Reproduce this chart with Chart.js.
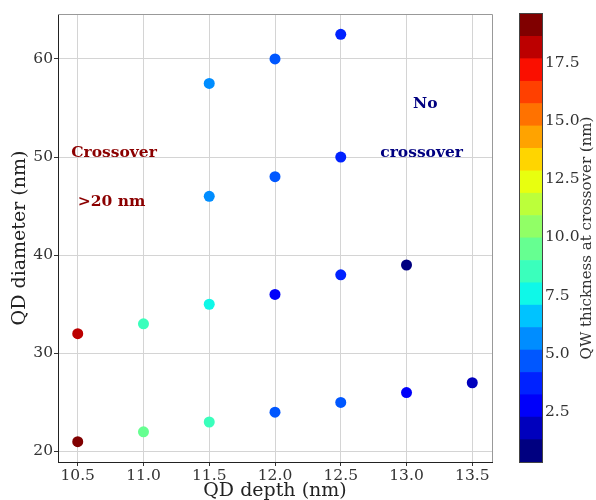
<!DOCTYPE html>
<html>
<head>
<meta charset="utf-8">
<script src="https://cdn.jsdelivr.net/npm/chart.js@4.4.1/dist/chart.umd.min.js"></script>
<style>
  body { margin: 0; background: #fff; }
  #wrap { position: relative; width: 596px; height: 500px; }
  #plot { position: absolute; left: 0; top: 0; }
  #cbar { position: absolute; left: 510px; top: 0; }
</style>
</head>
<body>
<div id="wrap">
  <canvas id="plot" width="510" height="500"></canvas>
  <canvas id="cbar" width="86" height="500"></canvas>
</div>
<script>
// values
const qdDepth    = [10.5, 11.0, 11.5, 12.0, 12.5, 13.0, 13.5,
                    10.5, 11.0, 11.5, 12.0, 12.5, 13.0,
                    11.5, 12.0, 12.5,
                    11.5, 12.0, 12.5];
const qdDiameter = [21, 22, 23, 24, 25, 26, 27,
                    32, 33, 35, 36, 38, 39,
                    46, 48, 50,
                    57.5, 60, 62.5];
const qwThick    = [19.1, 9.5, 8.5, 4.7, 4.9, 2.8, 1.8,
                    18.2, 8.5, 7.6, 2.8, 3.7, 0.8,
                    5.6, 4.7, 3.7,
                    5.6, 4.7, 3.7];

const xTicks  = [10.5, 11.0, 11.5, 12.0, 12.5, 13.0, 13.5];
const yTicks  = [20, 30, 40, 50, 60];
const cbTicks = [2.5, 5.0, 7.5, 10.0, 12.5, 15.0, 17.5];

// discrete jet colour levels of the colour bar
const cbEdges  = [0.35, 1.31, 2.28, 3.24, 4.2, 5.16, 6.13, 7.09, 8.05, 9.01, 9.98,
                  10.94, 11.9, 12.86, 13.83, 14.79, 15.75, 16.71, 17.68, 18.64, 19.6];
const cbColors = ['#000080', '#0000bd', '#0000fa', '#0022ff', '#0057ff', '#008dff', '#00c3ff',
                  '#0ff8e8', '#3affbc', '#66ff91', '#91ff66', '#bcff3a', '#e8ff0f', '#ffd500',
                  '#ffa300', '#ff7200', '#ff4000', '#fa0f00', '#bc0000', '#800000'];
const cbTitle  = 'QW thickness at crossover (nm)';

// text notes inside the plot
const noteText  = ['Crossover', '>20 nm', 'No', 'crossover'];
const noteX     = [10.45, 10.5, 13.05, 12.8];
const noteY     = [50, 45, 55, 50];
const noteColor = ['#8b0000', '#8b0000', '#000080', '#000080'];

const SERIF = '"DejaVu Serif", serif';

function colorFor(v) {
    for (let i = 0; i < cbColors.length; i++) {
        if (v < cbEdges[i + 1]) return cbColors[i];
    }
    return cbColors[cbColors.length - 1];
}

// gray top/right spines
const frame = {
    id: 'frame',
    afterDraw(chart) {
        const a = chart.chartArea, c = chart.ctx;
        c.save();
        c.strokeStyle = '#999';
        c.lineWidth = 1;
        c.beginPath();
        c.moveTo(a.left, a.top + 0.5); c.lineTo(a.right + 0.5, a.top + 0.5);
        c.lineTo(a.right + 0.5, a.bottom);
        c.stroke();
        c.restore();
    }
};

const notes = {
    id: 'notes',
    afterDatasetsDraw(chart) {
        const c = chart.ctx, sx = chart.scales.x, sy = chart.scales.y;
        c.save();
        c.font = 'bold 15.5px ' + SERIF;
        c.textAlign = 'left';
        c.textBaseline = 'alphabetic';
        noteText.forEach((t, i) => {
            c.fillStyle = noteColor[i];
            c.fillText(t, sx.getPixelForValue(noteX[i]), sy.getPixelForValue(noteY[i]));
        });
        c.restore();
    }
};

new Chart(document.getElementById('plot'), {
    type: 'scatter',
    data: {
        datasets: [{
            data: qdDepth.map((x, i) => ({ x: x, y: qdDiameter[i] })),
            backgroundColor: qwThick.map(colorFor),
            borderWidth: 0,
            pointRadius: 5.5,
            pointHoverRadius: 5.5
        }]
    },
    options: {
        responsive: false,
        animation: false,
        devicePixelRatio: 1,
        layout: { padding: { left: 9, right: 18, top: 14, bottom: 0 } },
        plugins: { legend: { display: false }, tooltip: { enabled: false } },
        scales: {
            x: {
                type: 'linear', min: 10.35, max: 13.65,
                afterBuildTicks: s => { s.ticks = xTicks.map(v => ({ value: v })); },
                afterFit: s => { s.height = 38; },
                ticks: { callback: v => v.toFixed(1), font: { family: SERIF, size: 15.5 },
                         color: '#333', padding: 1, maxRotation: 0, autoSkip: false },
                grid: { color: '#d4d4d4', tickColor: '#333', tickLength: 4 },
                border: { color: '#222' },
                title: { display: true, text: 'QD depth (nm)', font: { family: SERIF, size: 19 },
                         color: '#222', padding: { top: 0, bottom: -2 } }
            },
            y: {
                type: 'linear', min: 18.925, max: 64.575,
                afterBuildTicks: s => { s.ticks = yTicks.map(v => ({ value: v })); },
                afterFit: s => { s.width = 49; },
                ticks: { font: { family: SERIF, size: 15.5 }, color: '#333', padding: 1, autoSkip: false },
                grid: { color: '#d4d4d4', tickColor: '#333', tickLength: 4 },
                border: { color: '#222' },
                title: { display: true, text: 'QD diameter (nm)', font: { family: SERIF, size: 19 },
                         color: '#222', padding: 0 }
            }
        }
    },
    plugins: [frame, notes]
});

// colour bar: outline and a bottom-to-top title
const outline = {
    id: 'outline',
    afterDraw(chart) {
        const a = chart.chartArea, c = chart.ctx;
        c.save();
        c.strokeStyle = '#444';
        c.lineWidth = 1;
        c.strokeRect(a.left - 0.5, a.top - 0.5, a.right - a.left + 1, a.bottom - a.top + 1);
        c.translate(chart.width - 9, (a.top + a.bottom) / 2);
        c.rotate(-Math.PI / 2);
        c.font = '15px ' + SERIF;
        c.fillStyle = '#333';
        c.textAlign = 'center';
        c.textBaseline = 'middle';
        c.fillText(cbTitle, 0, 0);
        c.restore();
    }
};

new Chart(document.getElementById('cbar'), {
    type: 'bar',
    data: {
        labels: [''],
        datasets: cbColors.map((col, i) => ({
            data: [[cbEdges[i], cbEdges[i + 1]]],
            backgroundColor: col,
            borderWidth: 0,
            barPercentage: 1,
            categoryPercentage: 1,
            grouped: false
        }))
    },
    options: {
        responsive: false,
        animation: false,
        devicePixelRatio: 1,
        layout: { padding: { left: 10, right: 0, top: 14, bottom: 38 } },
        plugins: { legend: { display: false }, tooltip: { enabled: false } },
        scales: {
            x: { display: false },
            y: {
                position: 'right', min: 0.35, max: 19.6,
                afterBuildTicks: s => { s.ticks = cbTicks.map(v => ({ value: v })); },
                afterFit: s => { s.width = 54; },
                ticks: { callback: v => v.toFixed(1), font: { family: SERIF, size: 15.5 },
                         color: '#333', padding: 3, autoSkip: false },
                grid: { display: false, drawTicks: false, tickLength: 0 },
                border: { display: false }
            }
        }
    },
    plugins: [outline]
});
</script>
</body>
</html>
